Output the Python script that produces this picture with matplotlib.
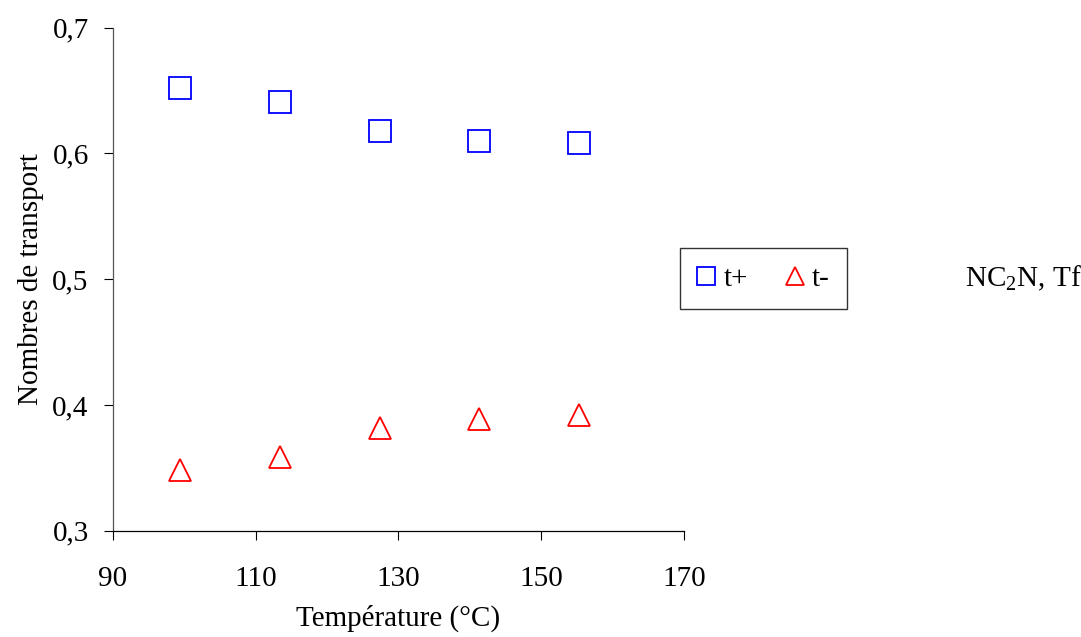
import matplotlib.pyplot as plt

plt.rcParams["font.family"] = ["Liberation Serif", "DejaVu Serif"]
plt.rcParams["mathtext.fontset"] = "custom"
plt.rcParams["mathtext.rm"] = "Liberation Serif"

temperature = [99.4, 113.4, 127.4, 141.3, 155.3]
t_plus = [0.652, 0.641, 0.618, 0.610, 0.608]
t_minus = [0.348, 0.359, 0.382, 0.389, 0.392]

x_ticks = [90, 110, 130, 150, 170]
y_ticks = [0.3, 0.4, 0.5, 0.6, 0.7]
y_tick_labels = ["0,3", "0,4", "0,5", "0,6", "0,7"]

fs = 21

fig = plt.figure(figsize=(10.81, 6.37), dpi=100, facecolor="white")
ax = fig.add_axes([0.1045, 0.1667, 0.5282, 0.7901])

ax.plot(temperature, t_plus, linestyle="none", marker="s", markersize=16,
        markerfacecolor="none", markeredgecolor="#0000ff", markeredgewidth=1.3, label="t+")
ax.plot(temperature, t_minus, linestyle="none", marker="^", markersize=16,
        markerfacecolor="none", markeredgecolor="#ff0000", markeredgewidth=1.3, label="t-")

ax.set_xlim(90, 170)
ax.set_ylim(0.3, 0.7)
ax.set_xticks(x_ticks)
ax.set_yticks(y_ticks)
ax.set_yticklabels(y_tick_labels)
ax.tick_params(axis="both", direction="out", length=6.5, width=0.8, labelsize=fs, colors="black")
ax.tick_params(axis="x", pad=19)
ax.tick_params(axis="y", pad=11)

for spine in ["top", "right"]:
    ax.spines[spine].set_visible(False)
ax.spines["left"].set_color("#555555")
ax.spines["bottom"].set_color("black")
ax.spines["left"].set_linewidth(0.9)
ax.spines["bottom"].set_linewidth(0.9)

ax.set_xlabel("Température (°C)", fontsize=fs, labelpad=9)
ax.set_ylabel("Nombres de transport", fontsize=fs, labelpad=6)

handles, labels = ax.get_legend_handles_labels()
legend = fig.legend(handles, labels, loc="center", bbox_to_anchor=(0.7063, 0.5625), ncol=2,
                    fontsize=fs, frameon=True, fancybox=False, edgecolor="black",
                    markerscale=0.78, handlelength=0.6, handletextpad=0.3, columnspacing=1.3,
                    borderpad=0.6, borderaxespad=0)
legend.get_frame().set_linewidth(1.0)

fig.text(0.893, 0.5625, "NC$_2$N, Tf", fontsize=fs, ha="left", va="center")

fig.savefig("out.png", dpi=100)
plt.close(fig)
